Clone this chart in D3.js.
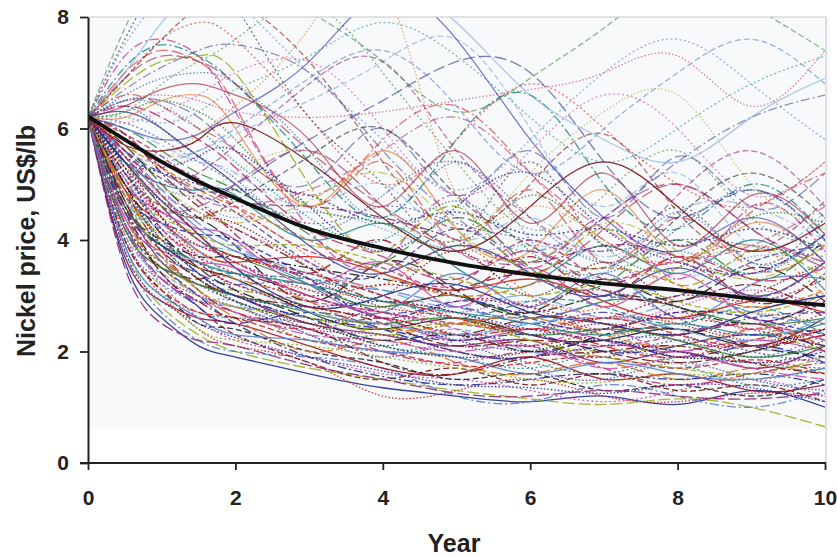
<!DOCTYPE html>
<html>
<head>
<meta charset="utf-8">
<script src="https://cdn.jsdelivr.net/npm/d3@7"></script>
<style>
  html, body { margin: 0; padding: 0; background: #fff; }
  svg { display: block; }
  text { font-family: "Liberation Sans", Arial, sans-serif; }
</style>
</head>
<body>
<svg id="chart" width="837" height="557"></svg>
<script>
// Simulation time points (years)
const years = [0, 0.5, 1, 1.5, 2, 3, 4, 5, 6, 7, 8, 9, 10];

// Expected (mean) nickel price path, US$/lb
const meanPath = [6.22, 5.8, 5.4, 5.05, 4.75, 4.2, 3.85, 3.58, 3.38, 3.22, 3.1, 2.95, 2.83];

// Simulated price paths, US$/lb, one row per path at the years above
const simPaths = [
  [6.2,3.6,2.6,2.1,1.9,1.6,1.35,1.2,1.1,1.2,1.05,1.3,1.0],
  [6.2,3.9,2.8,2.3,2.0,1.7,1.5,1.3,1.15,1.05,1.15,1.0,0.65],
  [6.2,4.1,3.0,2.4,2.1,1.8,1.2,1.3,1.5,1.2,1.1,1.25,1.2],
  [6.2,3.8,2.7,2.2,2.0,1.9,1.7,1.2,1.1,1.4,1.2,1.0,1.3],
  [6.2,4.3,3.2,2.6,2.2,1.9,1.6,1.5,1.3,1.1,1.3,1.5,1.2],
  [6.2,4.0,3.1,2.5,2.4,2.0,1.8,1.5,1.6,1.3,1.4,1.2,1.5],
  [6.2,4.5,3.4,2.8,2.3,1.8,1.5,1.7,1.4,1.6,1.3,1.4,1.1],
  [6.2,3.7,2.9,2.6,2.5,2.1,1.7,1.6,1.9,1.5,1.6,1.3,1.4],
  [6.2,4.4,3.5,3.0,2.6,2.0,2.2,1.8,1.6,1.8,1.5,1.7,1.6],
  [6.2,4.2,3.3,2.9,2.8,2.3,1.9,2.1,1.7,1.5,1.8,1.5,1.3],
  [6.2,4.6,3.7,3.1,2.7,2.4,2.0,1.8,2.0,1.7,1.4,1.6,1.8],
  [6.2,3.9,3.0,2.7,2.6,2.5,2.1,1.9,1.7,2.0,1.8,1.4,1.5],
  [6.2,4.8,3.9,3.3,2.9,2.2,2.3,2.0,1.8,1.6,1.9,1.8,1.7],
  [6.2,4.1,3.4,3.0,2.8,2.6,2.2,2.4,2.0,1.9,1.7,2.0,1.9],
  [6.2,4.7,3.6,3.2,3.0,2.5,2.3,2.1,2.2,1.8,2.0,1.7,2.1],
  [6.2,4.3,3.3,2.8,2.5,2.7,2.4,2.0,1.9,2.2,1.9,2.1,1.8],
  [6.2,5.0,4.0,3.4,3.0,2.6,2.5,2.2,2.0,2.1,2.3,1.9,2.2],
  [6.2,4.4,3.6,3.2,3.1,2.8,2.3,2.5,2.2,2.0,2.1,2.3,2.0],
  [6.2,4.9,3.8,3.1,2.7,2.4,2.6,2.3,2.4,2.1,1.9,2.2,2.4],
  [6.2,4.0,3.2,2.9,2.9,2.3,2.0,2.2,2.5,2.3,2.2,1.9,2.3],
  [6.2,5.1,4.2,3.6,3.2,2.9,2.7,2.4,2.1,2.4,2.0,2.4,2.2],
  [6.2,4.6,3.9,3.5,3.3,2.7,2.4,2.6,2.3,2.2,2.4,2.1,2.6],
  [6.2,4.2,3.5,3.3,3.4,3.0,2.6,2.3,2.6,2.5,2.3,2.5,2.0],
  [6.2,5.3,4.4,3.7,3.1,2.5,2.8,2.7,2.4,2.6,2.5,2.2,2.4],
  [6.2,4.8,4.1,3.8,3.5,3.1,2.9,2.5,2.7,2.3,2.6,2.7,2.5],
  [6.2,4.5,3.7,3.4,3.2,3.2,2.7,2.8,2.5,2.7,2.4,2.6,2.7],
  [6.2,5.2,4.3,3.9,3.6,2.9,2.5,2.9,2.8,2.4,2.7,2.4,2.9],
  [6.2,4.9,4.0,3.6,3.4,3.3,3.0,2.6,2.9,2.8,2.5,2.8,2.3],
  [6.2,5.4,4.6,4.0,3.7,3.2,2.8,3.0,2.6,2.9,2.8,2.5,2.6],
  [6.2,4.7,4.2,3.9,3.8,3.4,3.1,2.8,3.0,2.6,2.9,3.0,2.8],
  [6.2,3.5,2.5,2.2,2.1,1.75,1.5,1.25,1.2,1.3,1.2,1.15,1.25],
  [6.2,3.8,2.9,2.5,2.25,1.9,1.65,1.4,1.35,1.25,1.4,1.35,1.1],
  [6.2,4.3,3.5,3.0,2.5,1.9,1.55,1.4,1.5,1.6,1.5,1.6,1.4],
  [6.2,4.5,3.1,2.4,2.2,2.1,1.9,1.7,1.5,1.45,1.6,1.5,1.7],
  [6.2,4.0,3.1,2.7,2.6,2.2,2.0,1.75,1.8,1.9,1.7,1.85,1.6],
  [6.2,5.5,4.8,4.2,3.8,3.2,2.7,3.4,2.8,3.4,2.6,3.2,3.3],
  [6.2,5.0,4.5,4.2,4.0,3.2,3.6,2.8,3.5,2.8,3.4,2.6,3.0],
  [6.2,5.7,5.0,4.4,3.9,2.9,3.6,3.1,2.7,3.3,2.9,3.5,2.9],
  [6.2,5.3,4.7,4.4,4.3,3.5,3.0,3.8,3.0,3.6,2.8,3.0,3.6],
  [6.2,5.8,5.3,4.7,4.1,3.4,4.0,3.1,3.7,3.0,3.7,2.9,3.4],
  [6.2,5.1,4.6,4.4,4.5,3.7,3.2,3.9,3.0,2.8,3.5,3.9,3.0],
  [6.2,5.6,5.1,4.8,4.5,3.6,3.4,4.2,3.4,3.0,3.0,3.6,3.9],
  [6.2,5.9,5.5,5.0,4.6,3.8,3.5,3.2,4.0,3.3,3.6,3.0,3.6],
  [6.2,5.4,5.0,4.9,4.8,4.0,4.3,3.5,3.2,3.9,3.4,4.0,3.1],
  [6.2,6.0,5.6,5.2,4.9,4.1,3.6,4.4,3.5,3.2,4.0,3.3,4.0],
  [6.2,5.2,4.9,4.7,4.4,4.5,4.2,3.8,3.9,3.6,3.3,3.7,3.6],
  [6.2,5.8,5.4,5.1,4.7,4.6,4.4,4.0,3.6,3.9,3.7,3.4,4.1],
  [6.2,6.1,5.8,5.4,5.0,4.3,4.6,4.3,4.0,3.8,4.0,3.9,3.7],
  [6.2,5.5,5.2,5.0,4.9,4.8,4.3,4.5,4.1,4.2,3.9,4.2,3.8],
  [6.2,5.0,4.4,4.1,3.9,3.9,3.6,3.3,3.0,3.2,2.9,2.7,3.0],
  [6.2,4.9,4.3,3.8,3.6,3.7,3.4,3.1,3.3,2.9,2.6,2.9,2.7],
  [6.2,5.6,4.9,4.3,3.9,3.3,3.1,2.8,2.6,2.9,3.1,2.7,2.5],
  [6.2,5.3,4.8,4.5,4.2,3.6,3.0,2.7,2.9,2.6,2.8,3.1,2.8],
  [6.2,4.6,4.0,3.7,3.7,3.5,3.3,3.0,2.7,3.0,2.8,2.5,2.9],
  [6.2,5.9,5.2,4.6,4.2,3.5,2.9,3.1,3.4,3.1,2.9,3.2,2.6],
  [6.2,5.1,4.2,3.7,3.4,3.0,3.2,3.0,2.8,2.6,3.0,2.9,3.3],
  [6.2,5.7,5.3,4.9,4.6,4.0,3.4,3.0,3.2,3.5,3.2,2.8,3.1],
  [6.2,6.3,6.0,5.5,5.0,3.9,3.4,3.9,3.4,3.0,3.5,3.0,3.6],
  [6.2,6.4,6.2,5.8,5.3,4.2,3.7,3.3,3.8,3.2,3.7,3.3,3.5],
  [6.2,6.5,6.4,6.0,5.4,4.4,4.0,4.7,3.8,3.4,3.8,3.4,4.1],
  [6.2,6.3,6.5,6.3,5.8,4.6,4.3,3.9,4.8,3.9,3.5,4.4,4.3],
  [6.2,6.0,5.7,5.4,5.2,4.6,5.0,4.0,4.4,3.7,4.5,4.6,4.0],
  [6.2,5.2,4.5,4.0,3.6,3.1,2.7,2.5,2.8,3.1,2.6,2.3,2.7],
  [6.2,4.8,4.3,4.1,4.0,3.3,2.6,2.9,2.6,2.4,2.7,2.6,2.3],
  [6.2,5.4,4.7,4.1,3.5,2.8,3.0,3.2,2.7,2.5,2.3,2.7,3.0],
  [6.2,6.8,7.2,7.3,7.0,5.0,3.8,4.6,3.4,4.2,3.2,3.8,3.3],
  [6.2,7.0,7.4,7.2,6.4,4.6,5.4,4.0,4.9,3.6,4.4,3.5,3.9],
  [6.2,6.6,6.9,7.0,6.8,5.6,4.4,5.4,4.0,3.4,4.5,3.6,4.1],
  [6.2,7.3,7.6,7.3,6.3,4.2,3.6,4.8,3.5,4.4,3.3,4.6,3.8],
  [6.2,7.6,8.6,8.8,8.2,6.2,5.0,4.0,5.4,3.9,4.6,3.6,4.4],
  [6.2,6.9,7.6,8.2,8.3,7.2,5.4,4.2,5.0,5.9,4.5,3.8,4.7],
  [6.2,6.4,6.7,6.8,6.6,5.8,4.6,5.6,4.3,5.2,3.9,4.8,4.1],
  [6.2,6.2,6.5,6.6,6.0,4.6,5.6,4.2,3.8,4.9,3.7,4.3,3.6],
  [6.2,6.5,6.5,6.2,5.6,5.0,6.0,4.8,5.6,4.4,5.5,4.6,5.2],
  [6.2,6.5,6.6,6.5,6.3,6.2,6.3,6.5,6.7,7.0,7.3,6.4,7.4],
  [6.2,7.1,7.5,7.3,6.8,5.4,4.4,5.8,6.6,5.0,4.2,5.0,4.1],
  [6.2,6.3,6.8,7.2,7.6,8.2,7.0,5.4,4.2,4.8,5.6,4.4,3.9],
  [6.2,5.8,5.5,5.6,5.9,6.5,7.2,7.6,6.0,4.6,5.2,3.9,4.5],
  [6.2,5.5,5.0,5.2,5.7,6.8,7.2,5.6,4.4,3.8,4.8,5.6,4.6],
  [6.2,6.0,5.8,5.9,6.3,7.2,8.4,7.6,5.8,4.4,3.8,4.4,3.6],
  [6.2,5.6,5.2,4.9,5.0,5.8,6.5,7.2,7.0,5.4,4.4,4.9,4.0],
  [6.2,5.3,4.9,4.8,5.2,5.6,4.6,4.0,5.2,6.3,6.6,5.0,4.2],
  [6.2,6.6,6.4,6.0,5.6,4.8,5.8,6.4,5.2,4.0,3.6,4.5,5.2],
  [6.2,7.5,8.3,8.6,8.3,7.0,5.8,4.9,5.8,7.0,7.6,6.8,5.8],
  [6.2,6.1,6.3,6.6,7.0,7.2,6.0,4.8,5.6,6.6,6.0,4.8,5.4],
  [6.2,5.2,4.6,4.4,4.7,5.5,6.0,4.8,3.9,3.5,4.4,5.2,4.4],
  [6.2,5.7,5.6,5.8,6.1,5.4,4.4,3.8,4.6,5.4,4.6,3.8,4.3],
  [6.2,6.9,7.3,7.2,6.8,5.6,4.6,3.8,3.4,4.2,5.0,4.2,3.6],
  [6.2,5.3,5.4,5.9,6.4,7.8,8.6,4.8,4.6,4.0,3.6,3.9,3.5],
  [6.2,6.7,7.1,7.4,7.5,7.0,5.6,4.4,3.8,4.4,5.4,6.2,6.6],
  [6.2,5.9,5.3,4.8,4.6,4.9,5.6,6.2,5.2,4.2,3.7,3.9,4.6],
  [6.2,6.2,6.1,6.3,6.7,7.3,7.9,7.3,6.2,5.4,6.0,6.8,7.3],
  [6.2,7.8,8.9,9.2,8.9,8.1,7.2,6.3,6.9,7.8,8.6,8.2,7.4],
  [6.2,7.0,7.9,8.6,9.0,9.2,8.8,7.9,6.6,5.8,5.4,6.2,6.9],
  [6.2,5.0,4.5,4.6,5.0,5.6,4.6,3.8,3.6,4.4,5.0,4.2,3.5],
  [6.2,5.4,5.3,5.5,5.6,4.6,3.8,4.6,5.2,4.2,3.6,3.4,4.1],
  [6.2,6.4,6.0,5.5,5.1,4.2,4.8,5.4,4.4,3.6,4.2,4.9,4.0],
  [6.2,5.8,5.0,4.5,4.3,4.7,5.2,4.2,3.6,4.3,3.8,3.3,3.9],
  [6.2,6.9,7.6,7.9,7.6,6.2,5.0,5.8,6.8,6.0,5.0,4.6,5.4],
  [6.2,5.6,5.4,5.6,6.0,6.9,7.4,6.4,5.2,6.0,7.0,7.6,6.8],
  [6.2,4.4,3.8,3.6,3.5,3.0,2.6,2.2,2.4,2.2,2.0,2.2,2.0],
  [6.2,5.0,4.1,3.5,3.1,2.6,2.2,2.3,2.0,2.3,2.4,2.1,1.9],
  [6.2,4.7,3.8,3.3,3.0,2.8,2.5,2.1,2.2,2.0,1.8,2.0,2.3],
  [6.2,5.2,4.4,3.9,3.7,3.3,2.8,2.6,2.3,2.5,2.2,2.1,2.4],
  [6.2,4.9,4.0,3.5,3.3,2.9,2.4,2.5,2.6,2.3,2.1,2.4,2.1],
  [6.2,4.3,3.6,3.2,2.9,2.4,2.1,2.3,2.1,1.9,2.2,2.0,1.8],
  [6.2,5.5,4.6,4.0,3.6,3.0,2.7,2.5,2.3,2.1,2.3,2.5,2.2],
  [6.2,4.6,3.9,3.6,3.4,3.2,2.9,2.7,2.5,2.3,2.5,2.3,2.5],
  [6.2,4.2,3.5,3.2,3.0,2.7,2.5,2.6,2.3,2.4,2.2,1.9,2.1],
  [6.2,5.1,4.3,3.8,3.3,2.7,2.5,2.3,2.5,2.6,2.4,2.2,2.6],
  [6.2,4.0,3.3,3.0,2.8,2.4,2.3,2.0,1.9,2.1,2.0,1.8,1.9],
  [6.2,4.5,3.9,3.4,3.0,2.6,2.4,2.2,2.3,2.0,2.1,2.3,2.1],
  [6.2,5.3,4.1,3.4,3.0,2.8,2.9,2.7,2.4,2.2,2.0,1.8,2.0],
  [6.2,4.8,3.7,3.1,2.8,2.6,2.4,2.5,2.2,1.9,1.7,1.6,1.9],
  [6.2,5.6,4.8,4.1,3.7,3.4,3.0,2.6,2.4,2.6,2.3,2.1,2.3],
  [6.2,3.9,3.0,2.6,2.3,2.2,2.0,1.9,1.6,1.8,1.6,1.5,1.7],
  [6.2,4.3,3.3,2.9,2.7,2.3,2.2,2.0,2.1,1.7,1.9,1.7,1.5],
  [6.2,5.0,3.9,3.3,2.9,2.5,2.1,1.9,2.0,2.2,1.9,2.0,2.4],
  [6.2,4.6,3.4,2.9,2.6,2.4,1.8,1.6,1.9,2.0,2.1,1.8,1.6],
  [6.2,5.4,4.4,3.6,3.2,2.8,2.6,2.3,2.1,2.4,2.6,2.4,2.1]
];

// Axis ticks
const xTicks = [0, 2, 4, 6, 8, 10];
const yTicks = [0, 2, 4, 6, 8];

// Line colours and dash patterns cycled over the paths
const palette = ["#1f2f8f", "#a0102a", "#8e2a78", "#222222", "#3a8a3a", "#5b7fd0",
                 "#c0306a", "#9bb020", "#e0701a", "#2a2aa8", "#7a1a1a", "#7aa6e0",
                 "#cc4fb0", "#2c8f8f", "#d02020", "#4a4a9a"];
const dashes = [null, "6,3", "2,2.5", "9,3,2,3", "1.5,2", "12,4"];

const svg = d3.select("#chart");
const margin = { left: 88, right: 825, top: 17, bottom: 463 };

const x = d3.scaleLinear().domain([0, 10]).range([margin.left, margin.right]);
const y = d3.scaleLinear().domain([0, 8]).range([margin.bottom, margin.top]);

// faint plot-area wash
svg.append("rect")
  .attr("x", x(0)).attr("y", y(8))
  .attr("width", x(10) + 5 - x(0)).attr("height", y(0.63) - y(8))
  .attr("fill", "#f8f9fa");

svg.append("defs").append("clipPath").attr("id", "plotClip")
  .append("rect")
  .attr("x", x(0)).attr("y", y(8))
  .attr("width", x(10) - x(0)).attr("height", y(0) - y(8));

const simLine = d3.line()
  .x((d, i) => x(years[i]))
  .y(d => y(d))
  .curve(d3.curveNatural);

const meanLine = d3.line()
  .x((d, i) => x(years[i]))
  .y(d => y(d))
  .curve(d3.curveMonotoneX);

const plot = svg.append("g").attr("clip-path", "url(#plotClip)");

plot.selectAll("path.sim")
  .data(simPaths)
  .join("path")
  .attr("class", "sim")
  .attr("d", simLine)
  .attr("fill", "none")
  .attr("stroke", (d, i) => palette[(i * 7) % palette.length])
  .attr("stroke-width", 1.3)
  .attr("stroke-opacity", d => (d[6] > 4.5 ? 0.6 : 0.9))
  .attr("stroke-dasharray", (d, i) => dashes[(i * 5 + Math.floor(i / 6)) % dashes.length]);

plot.append("path")
  .datum(meanPath)
  .attr("d", meanLine)
  .attr("fill", "none")
  .attr("stroke", "#111")
  .attr("stroke-width", 3.8);

// frame: light top and right edges
svg.append("line")
  .attr("x1", x(0)).attr("x2", x(10) + 1).attr("y1", y(8)).attr("y2", y(8))
  .attr("stroke", "#c8c8c8").attr("stroke-width", 1.2);
svg.append("line")
  .attr("x1", x(10) + 1).attr("x2", x(10) + 1).attr("y1", y(8)).attr("y2", y(0))
  .attr("stroke", "#c8cdd4").attr("stroke-width", 1.2);

// axes
const xAxis = svg.append("g")
  .attr("transform", `translate(0,${y(0)})`)
  .call(d3.axisBottom(x).tickValues(xTicks).tickSize(7).tickSizeOuter(0).tickPadding(20));
const yAxis = svg.append("g")
  .attr("transform", `translate(${x(0)},0)`)
  .call(d3.axisLeft(y).tickValues(yTicks).tickSize(8).tickSizeOuter(0).tickPadding(11));

[xAxis, yAxis].forEach(g => {
  g.select(".domain").attr("stroke", "#222").attr("stroke-width", 2);
  g.selectAll(".tick line").attr("stroke", "#222").attr("stroke-width", 1.8);
  g.selectAll(".tick text")
    .attr("fill", "#222")
    .style("font-family", '"Liberation Sans", Arial, sans-serif')
    .style("font-weight", "bold")
    .style("font-size", "21px");
});
xAxis.select(".domain").attr("d", `M${x(0) - 8},0H${x(10) + 1}`);

// axis titles
svg.append("text")
  .attr("x", 454).attr("y", 552)
  .attr("text-anchor", "middle")
  .attr("fill", "#222")
  .style("font-weight", "bold").style("font-size", "25px")
  .text("Year");

svg.append("text")
  .attr("transform", "translate(35,241) rotate(-90)")
  .attr("text-anchor", "middle")
  .attr("fill", "#222")
  .style("font-weight", "bold").style("font-size", "25px")
  .text("Nickel price, US$/lb");
</script>
</body>
</html>
